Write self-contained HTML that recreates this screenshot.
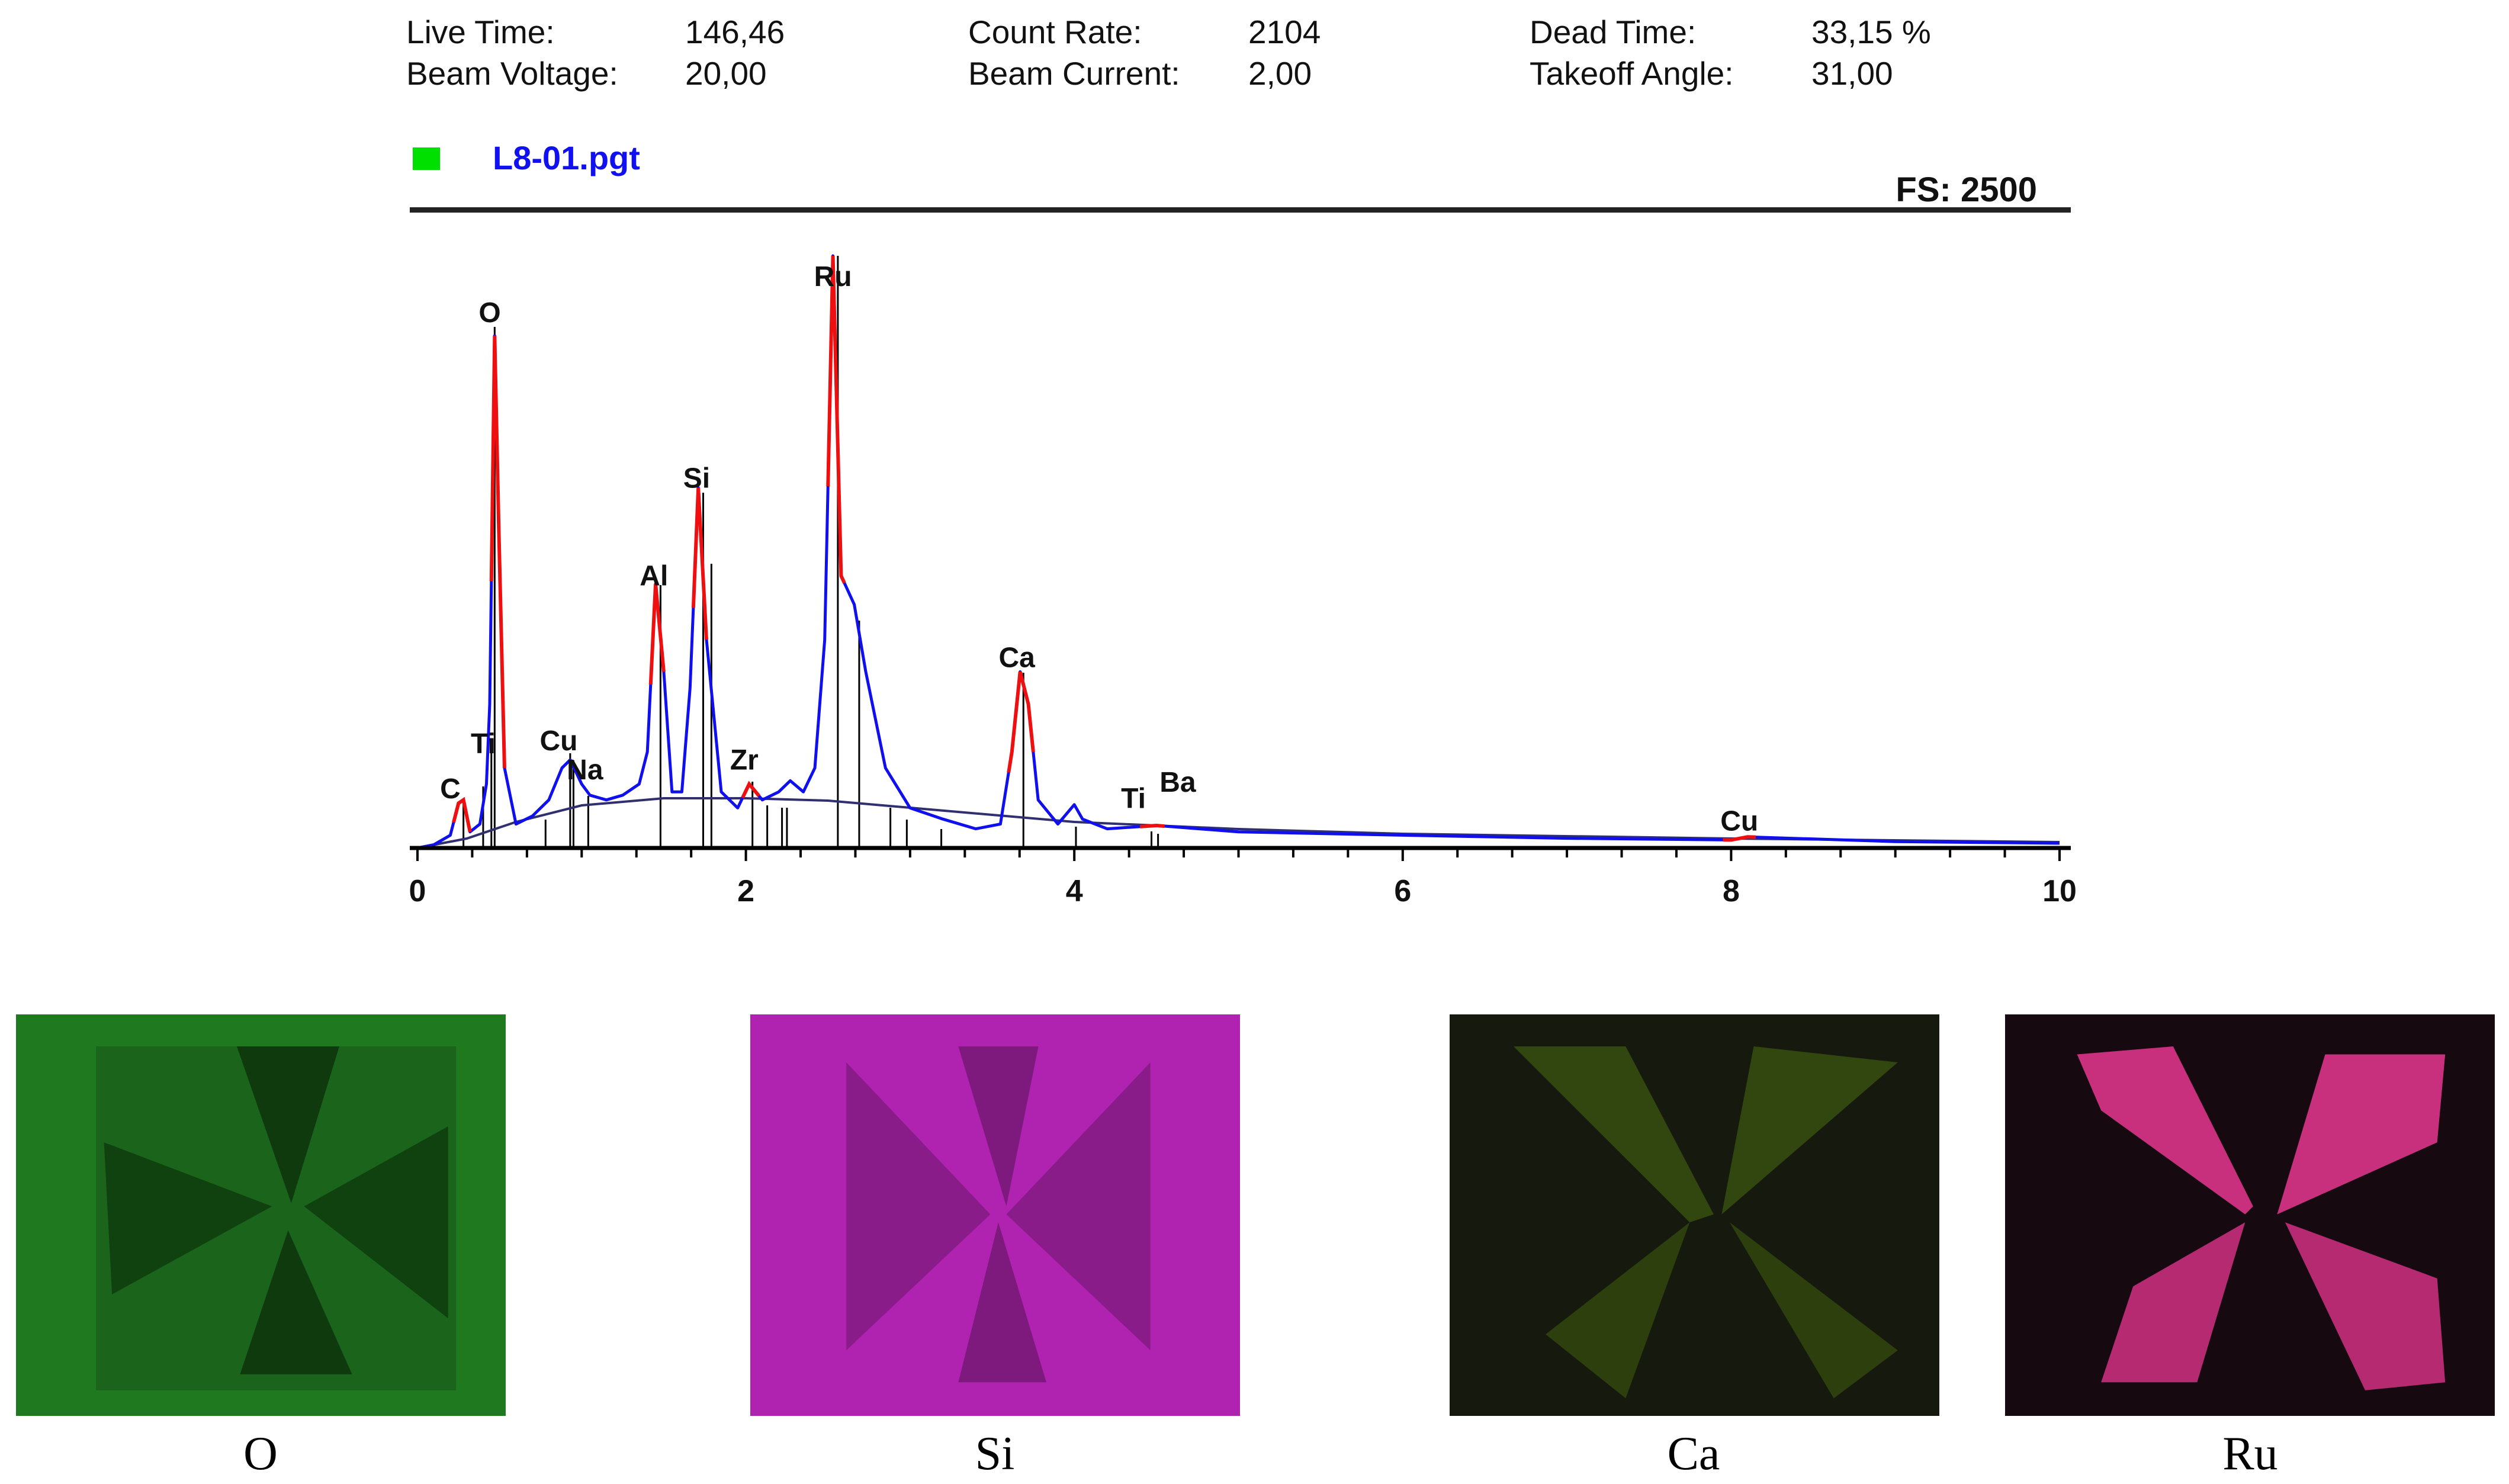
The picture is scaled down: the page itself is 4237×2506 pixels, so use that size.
<!DOCTYPE html>
<html><head><meta charset="utf-8"><style>
html,body{margin:0;padding:0;background:#fff}
body{width:4237px;height:2506px;position:relative;overflow:hidden;font-family:"Liberation Sans",Arial,sans-serif}
.t{position:absolute;font-size:55px;color:#111;white-space:nowrap}
.cap{position:absolute;font-family:"Liberation Serif",serif;font-size:80px;color:#000;top:2410px;transform:translateX(-50%)}
.map{position:absolute;top:1713px;width:827px;height:678px}
</style></head><body>
<div class="t" style="left:686px;top:22px">Live Time:</div>
<div class="t" style="left:1157px;top:22px">146,46</div>
<div class="t" style="left:1635px;top:22px">Count Rate:</div>
<div class="t" style="left:2108px;top:22px">2104</div>
<div class="t" style="left:2583px;top:22px">Dead Time:</div>
<div class="t" style="left:3059px;top:22px">33,15 %</div>
<div class="t" style="left:686px;top:92px">Beam Voltage:</div>
<div class="t" style="left:1157px;top:92px">20,00</div>
<div class="t" style="left:1635px;top:92px">Beam Current:</div>
<div class="t" style="left:2108px;top:92px">2,00</div>
<div class="t" style="left:2583px;top:92px">Takeoff Angle:</div>
<div class="t" style="left:3059px;top:92px">31,00</div>

<svg id="chart" style="position:absolute;left:0;top:0" width="4237" height="1600" font-family="Liberation Sans, Arial, sans-serif">
<rect x="697" y="249" width="46" height="38" fill="#00e000"/>
<text x="832" y="286" font-size="56" font-weight="bold" fill="#1010f0">L8-01.pgt</text>
<text x="3440" y="340" font-size="58" font-weight="bold" text-anchor="end" fill="#111">FS:  2500</text>
<rect x="692" y="350" width="2805" height="9" fill="#222"/>
<g id="plot"></g>
</svg>

<div class="map" style="left:27px">
<svg width="827" height="678" viewBox="0 0 306 251" preserveAspectRatio="none">
<rect width="306" height="251" fill="#1f7a1f"/>
<rect x="50" y="20" width="225" height="215" fill="#1a5f1a" opacity=".8"/>
<polygon points="138,20 202,20 172,118" fill="#0e3a0e"/>
<polygon points="170,135 140,225 210,225" fill="#0e3a0e"/>
<polygon points="55,80 160,120 60,175" fill="#0f420f"/>
<polygon points="270,70 180,120 270,190" fill="#0f420f"/>
</svg></div>
<div class="map" style="left:1267px">
<svg width="827" height="678" viewBox="0 0 306 251" preserveAspectRatio="none">
<rect width="306" height="251" fill="#b022b0"/>
<polygon points="60,30 150,125 60,210" fill="#7a1a7a" opacity=".7"/>
<polygon points="250,30 160,125 250,210" fill="#7a1a7a" opacity=".7"/>
<polygon points="130,20 180,20 160,120" fill="#6a166a" opacity=".7"/>
<polygon points="155,130 130,230 185,230" fill="#6a166a" opacity=".7"/>
</svg></div>
<div class="map" style="left:2448px">
<svg width="827" height="678" viewBox="0 0 306 251" preserveAspectRatio="none">
<rect width="306" height="251" fill="#161a0e"/>
<polygon points="40,20 110,20 165,125 150,130" fill="#3a5212" opacity=".8"/>
<polygon points="190,20 280,30 170,125" fill="#3a5212" opacity=".8"/>
<polygon points="150,130 60,200 110,240" fill="#34490f" opacity=".8"/>
<polygon points="175,130 240,240 280,210" fill="#34490f" opacity=".8"/>
</svg></div>
<div class="map" style="left:3386px">
<svg width="827" height="678" viewBox="0 0 306 251" preserveAspectRatio="none">
<rect width="306" height="251" fill="#160a10"/>
<polygon points="45,25 105,20 155,120 150,125 60,60" fill="#c8307e"/>
<polygon points="200,25 275,25 270,80 170,125" fill="#c8307e"/>
<polygon points="150,130 80,170 60,230 120,230" fill="#b52a70"/>
<polygon points="175,130 270,165 275,230 225,235" fill="#b52a70"/>
</svg></div>
<div class="cap" style="left:440px">O</div>
<div class="cap" style="left:1680px">Si</div>
<div class="cap" style="left:2860px">Ca</div>
<div class="cap" style="left:3800px">Ru</div>

<script>
const energies=[0,0.1,0.2,0.25,0.28,0.32,0.38,0.42,0.44,0.47,0.495,0.53,0.6,0.7,0.8,0.88,0.93,1.0,1.05,1.15,1.25,1.35,1.4,1.45,1.5,1.55,1.61,1.66,1.71,1.76,1.85,1.95,2.02,2.1,2.2,2.27,2.35,2.42,2.48,2.53,2.58,2.66,2.73,2.85,3.0,3.2,3.4,3.55,3.62,3.67,3.72,3.78,3.9,4.0,4.05,4.2,4.5,5,6,7,8,8.1,9,10];
const counts=[0,14,54,189,203,68,101,270,608,2163,1352,338,101,135,203,338,372,270,223,203,223,270,406,1115,744,237,237,676,1521,879,237,169,270,203,237,284,237,338,879,2500,1149,1028,744,338,169,122,81,101,406,744,608,203,101,183,122,81,95,68,54,41,34,47,27,20];
const bgEnergies=[0,0.3,0.6,1.0,1.5,2.0,2.5,3.0,4.0,5,6,8,10];
const bgCounts=[0,40,110,180,210,210,200,170,110,80,60,40,25];
const redRanges=[[0.22,0.32],[0.45,0.53],[1.42,1.5],[1.68,1.76],[1.98,2.08],[2.5,2.6],[3.6,3.75],[4.4,4.55],[7.95,8.15]];
const lineEnergies=[0.28,0.40,0.45,0.47,0.78,0.93,0.95,1.04,1.48,1.74,1.79,2.04,2.13,2.22,2.25,2.56,2.69,2.88,2.98,3.19,3.69,4.01,4.47,4.51];
const lineCounts=[200,260,440,2200,120,400,370,220,1110,1500,1200,280,180,170,170,2500,960,170,120,80,740,90,70,60];
const peakLabels=["C","Ti","O","Cu","Na","Al","Si","Zr","Ru","Ca","Ti","Ba","Cu"];
const labelEnergies=[0.2,0.4,0.44,0.86,1.02,1.44,1.7,1.99,2.53,3.65,4.36,4.63,8.05];
const labelCounts=[210,400,2220,412,290,1109,1521,331,2373,764,169,237,74];
const tickLabels=[0,2,4,6,8,10];
const NS="http://www.w3.org/2000/svg";
const X0=705,X1=3478,Y0=1432,PX=1000/2500;
function xs(k){return X0+(X1-X0)*k/10;}
function ys(c){return Y0-c*PX;}
const g=document.getElementById('plot');
function mk(tag,attrs){const e=document.createElementNS(NS,tag);for(const k in attrs)e.setAttribute(k,attrs[k]);g.appendChild(e);return e;}
lineEnergies.forEach((k,i)=>{
 const l=mk('line',{x1:xs(k),x2:xs(k),y1:Y0,y2:ys(lineCounts[i]),stroke:'#000','stroke-width':3});
 
 
});
let d='';bgEnergies.forEach((k,i)=>{d+=(i?'L':'M')+xs(k)+','+ys(bgCounts[i]);});
const bg=mk('path',{d:d,fill:'none',stroke:'#303070','stroke-width':4});


d='';energies.forEach((k,i)=>{d+=(i?'L':'M')+xs(k)+','+ys(counts[i]);});
const sp=mk('path',{d:d,fill:'none',stroke:'#1010ee','stroke-width':5,'stroke-linejoin':'round'});


function interp(k){for(let i=1;i<energies.length;i++){if(k<=energies[i]){const t=(k-energies[i-1])/(energies[i]-energies[i-1]);return counts[i-1]+t*(counts[i]-counts[i-1]);}}return counts[counts.length-1];}
redRanges.forEach(r=>{
 let p='M'+xs(r[0])+','+ys(interp(r[0]));
 energies.forEach((k,i)=>{if(k>r[0]&&k<r[1])p+='L'+xs(k)+','+ys(counts[i]);});
 p+='L'+xs(r[1])+','+ys(interp(r[1]));
 const e=mk('path',{d:p,fill:'none',stroke:'#ee1010','stroke-width':6});
 
 
});
const ax=mk('line',{x1:692,x2:3497,y1:Y0,y2:Y0,stroke:'#000','stroke-width':7});


for(let i=0;i<=30;i++){const k=i/3;const major=i%6===0;
 const t=mk('line',{x1:xs(k),x2:xs(k),y1:Y0,y2:Y0+(major?22:16),stroke:'#000','stroke-width':4});
 
 }
tickLabels.forEach(v=>{
 const t=mk('text',{x:xs(v),y:1522,'font-size':52,'font-weight':'bold','text-anchor':'middle',fill:'#111'});
 t.textContent=v;
 
 
});
peakLabels.forEach((s,i)=>{
 const t=mk('text',{x:xs(labelEnergies[i]),y:ys(labelCounts[i]),'font-size':48,'font-weight':'bold','text-anchor':'middle',fill:'#111'});
 t.textContent=s;
 
 
});
</script>
</body></html>
